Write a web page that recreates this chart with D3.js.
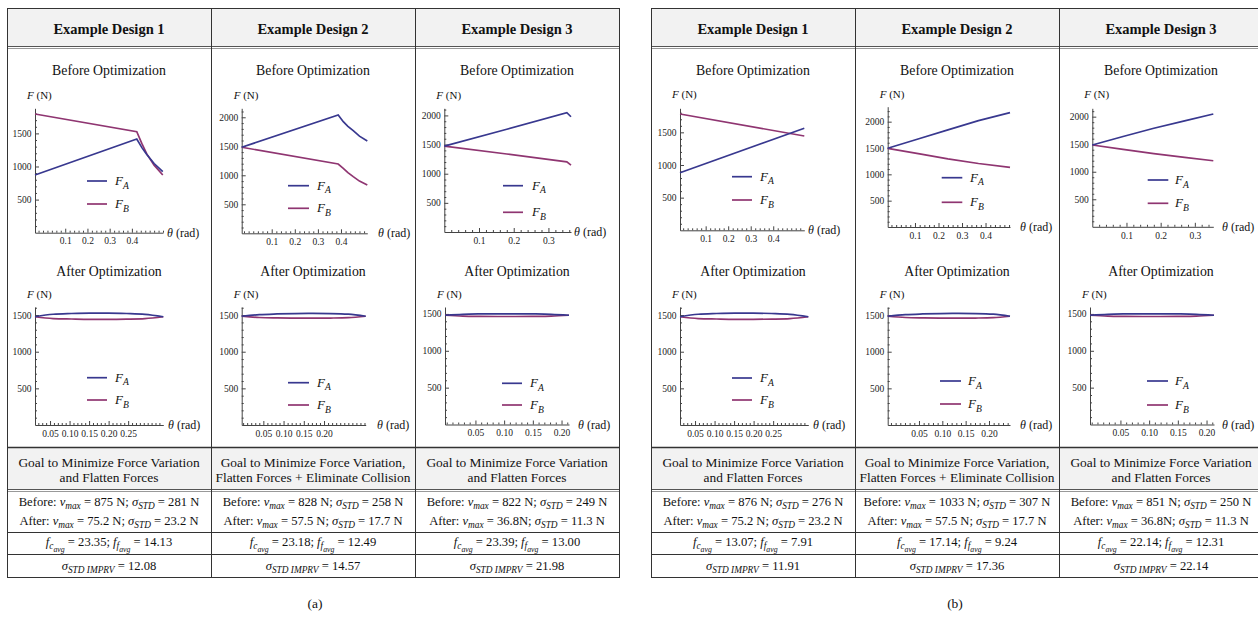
<!DOCTYPE html>
<html><head><meta charset="utf-8">
<script src="https://cdn.jsdelivr.net/npm/d3@7"></script>
<style>html,body{margin:0;padding:0;background:#fff;} svg{display:block;} text{white-space:pre;}</style>
</head><body>
<svg id="c" width="1258" height="617"></svg>
<script>
// ================= DATA =================
const designNames = ["Example Design 1", "Example Design 2", "Example Design 3"];
const goalLines = [
  ["Goal to Minimize Force Variation", "and Flatten Forces"],
  ["Goal to Minimize Force Variation,", "Flatten Forces + Eliminate Collision"],
  ["Goal to Minimize Force Variation", "and Flatten Forces"]
];
const panelTitles = ["Before Optimization", "After Optimization"];
const tableCaptions = ["(a)", "(b)"];

// tick labels
const yTicks3 = [500, 1000, 1500];
const yTicks4 = [500, 1000, 1500, 2000];
const xTicksBefore4 = [0.1, 0.2, 0.3, 0.4];
const xTicksBefore3 = [0.1, 0.2, 0.3];
const xTicksAfter5 = [0.05, 0.10, 0.15, 0.20, 0.25];
const xTicksAfter4 = [0.05, 0.10, 0.15, 0.20];

// statistics
const beforeVmaxA = [875, 828, 822];
const beforeStdA = [281, 258, 249];
const beforeVmaxB = [876, 1033, 851];
const beforeStdB = [276, 307, 250];
const afterVmax = [75.2, 57.5, 36.8];
const afterStd = [23.2, 17.7, 11.3];
const fcAvgA = [23.35, 23.18, 23.39];
const ffAvgA = [14.13, 12.49, 13.00];
const fcAvgB = [13.07, 17.14, 22.14];
const ffAvgB = [7.91, 9.24, 12.31];
const stdImprvA = [12.08, 14.57, 21.98];
const stdImprvB = [11.91, 17.36, 22.14];

// force curves before optimization: [theta (rad), F (N)]
const a1BeforeFA = [[-0.036, 872], [0.422, 1415], [0.445, 1285], [0.467, 1180], [0.50, 1045], [0.539, 921]];
const a1BeforeFB = [[-0.036, 1793], [0.422, 1526], [0.445, 1345], [0.467, 1190], [0.50, 1020], [0.539, 872]];
const a2BeforeFA = [[-0.030, 1483], [0.388, 2040], [0.410, 1924], [0.430, 1845], [0.453, 1769], [0.480, 1675], [0.514, 1591]];
const a2BeforeFB = [[-0.030, 1483], [0.388, 1195], [0.410, 1121], [0.430, 1045], [0.453, 976], [0.480, 900], [0.514, 833]];
const a3BeforeFA = [[0, 1474], [0.18, 1762], [0.353, 2046], [0.365, 1977]];
const a3BeforeFB = [[0, 1474], [0.18, 1338], [0.353, 1204], [0.365, 1148]];
const b1BeforeFA = [[-0.014, 882], [0.538, 1562]];
const b1BeforeFB = [[-0.014, 1781], [0.538, 1444]];
const b2BeforeFA = [[-0.016, 1494], [0.12, 1680], [0.24, 1845], [0.37, 2020], [0.504, 2172]];
const b2BeforeFB = [[-0.016, 1494], [0.12, 1390], [0.24, 1293], [0.37, 1205], [0.504, 1133]];
const b3BeforeFA = [[0, 1485], [0.09, 1640], [0.18, 1790], [0.27, 1925], [0.354, 2048]];
const b3BeforeFB = [[0, 1485], [0.09, 1405], [0.18, 1330], [0.27, 1262], [0.354, 1200]];

// force curves after optimization
const after1Theta = [0.0115, 0.058, 0.105, 0.152, 0.199, 0.246, 0.293, 0.340];
const after1FA = [1477, 1511, 1521, 1526, 1526, 1521, 1510, 1477];
const after1FB = [1477, 1452, 1446, 1442, 1442, 1445, 1452, 1477];
const after2Theta = [-0.0035, 0.040, 0.084, 0.128, 0.172, 0.216, 0.260, 0.303];
const after2ThetaB = [-0.017, 0.021, 0.058, 0.096, 0.134, 0.171, 0.209, 0.245];
const after2FA = [1484, 1506, 1515, 1520, 1522, 1520, 1512, 1484];
const after2FB = [1484, 1467, 1461, 1458, 1457, 1459, 1465, 1484];
const after3Theta = [-0.003, 0.028, 0.058, 0.089, 0.119, 0.150, 0.182, 0.213];
const after3FA = [1482, 1495, 1500, 1502, 1502, 1500, 1495, 1482];
const after3FB = [1482, 1471, 1467, 1465, 1465, 1467, 1471, 1482];

// ================= DRAWING =================
const SERIF = "'Liberation Serif','Times New Roman',serif";
const COL_A = "#38388f", COL_B = "#8f3571";
const svg = d3.select("#c");

function rich(sel, x, y, segs, size, anchor, weight) {
  const t = sel.append("text").attr("x", x).attr("y", y)
    .attr("text-anchor", anchor || "middle").attr("font-family", SERIF)
    .attr("font-size", size).attr("fill", "#111");
  if (weight) t.attr("font-weight", weight);
  const off = [0, 0.27, 0.45], sz = [1, 0.74, 0.62];
  let cur = 0;
  segs.forEach(s => {
    const lvl = s.s || 0;
    const ts = t.append("tspan").text(s.t).attr("font-size", size * sz[lvl]);
    const dy = (off[lvl] - off[cur]) * size;
    if (dy) ts.attr("dy", dy.toFixed(2));
    if (s.i) ts.attr("font-style", "italic");
    cur = lvl;
  });
  return t;
}

const tables = [
  {cols: [7, 211, 415, 619], capX: 315, cap: tableCaptions[0], vmax: beforeVmaxA, std: beforeStdA, fc: fcAvgA, ff: ffAvgA, imp: stdImprvA},
  {cols: [651, 855, 1059, 1264], capX: 955, cap: tableCaptions[1], vmax: beforeVmaxB, std: beforeStdB, fc: fcAvgB, ff: ffAvgB, imp: stdImprvB}
];
const R = {top: 8, head: 47, goalTop: 447, goalBot: 490, ba: 532, f: 554, bot: 577};

tables.forEach(tb => {
  const L = tb.cols[0], Rt = tb.cols[3];
  svg.append("rect").attr("x", L).attr("y", R.top).attr("width", Rt - L).attr("height", R.head - R.top).attr("fill", "#f2f2f2");
  svg.append("rect").attr("x", L).attr("y", R.goalTop).attr("width", Rt - L).attr("height", R.goalBot - R.goalTop).attr("fill", "#f2f2f2");
  const hl = (y, c, w) => svg.append("line").attr("x1", L).attr("x2", Rt).attr("y1", y).attr("y2", y).attr("stroke", c || "#333").attr("stroke-width", w || 1);
  hl(R.top + 0.5); hl(R.head - 0.5, "#555"); hl(R.head + 1.5, "#999");
  hl(R.goalTop + 0.5, "#333", 1.3); hl(R.goalBot - 0.5, "#555"); hl(R.goalBot + 1.5, "#999");
  hl(R.ba + 0.5); hl(R.f + 0.5); hl(R.bot + 0.5);
  tb.cols.forEach(cx => svg.append("line").attr("x1", cx + 0.5).attr("x2", cx + 0.5).attr("y1", R.top).attr("y2", R.bot + 1).attr("stroke", "#333"));
  for (let i = 0; i < 3; i++) {
    const mid = tb.cols[i] + 102;
    rich(svg, mid, 33.5, [{t: designNames[i]}], 14.5, "middle", "bold");
    rich(svg, mid, 467, [{t: goalLines[i][0]}], 13.4);
    rich(svg, mid, 482, [{t: goalLines[i][1]}], 13.4);
    rich(svg, mid, 506, [{t: "Before: "}, {t: "ν", i: 1}, {t: "max", i: 1, s: 1}, {t: " = " + tb.vmax[i] + " N; "}, {t: "σ", i: 1}, {t: "STD", i: 1, s: 1}, {t: " = " + tb.std[i] + " N"}], 12.6);
    rich(svg, mid, 525, [{t: "After: "}, {t: "ν", i: 1}, {t: "max", i: 1, s: 1}, {t: " = " + d3.format(".1f")(afterVmax[i]) + (i === 2 ? "N; " : " N; ")}, {t: "σ", i: 1}, {t: "STD", i: 1, s: 1}, {t: " = " + d3.format(".1f")(afterStd[i]) + " N"}], 12.6);
    rich(svg, mid, 546, [{t: "f", i: 1}, {t: "c", i: 1, s: 1}, {t: "avg", i: 1, s: 2}, {t: " = " + d3.format(".2f")(tb.fc[i]) + "; "}, {t: "f", i: 1}, {t: "f", i: 1, s: 1}, {t: "avg", i: 1, s: 2}, {t: " = " + d3.format(".2f")(tb.ff[i])}], 12.6);
    rich(svg, mid, 570, [{t: "σ", i: 1}, {t: "STD IMPRV", i: 1, s: 1}, {t: " = " + d3.format(".2f")(tb.imp[i])}], 12.6);
  }
  rich(svg, tb.capX, 608, [{t: tb.cap}], 13.5);
});

function zipA(t, f) { return d3.zip(t, f); }

const panels = [
  // table (a) before
  {cx: 109, ty0: 70, fY: 95, ax: 35, ex: 163, xDom: [-0.036, 0.54], ay: 232.7, ty: 108.3, yTop: 1879, yTicks: yTicks3, xTicks: xTicksBefore4, fmt: ".1f", minor: 0.02, thX: 167, leg: [87, 107, 115, 181, 204], FA: a1BeforeFA, FB: a1BeforeFB, title: panelTitles[0]},
  {cx: 313, ty0: 70, fY: 95, ax: 241.7, ex: 367.3, xDom: [-0.030, 0.514], ay: 233.3, ty: 108.3, yTop: 2155, yTicks: yTicks4, xTicks: xTicksBefore4, fmt: ".1f", minor: 0.02, thX: 378, leg: [288, 309, 317, 185.7, 208.3], FA: a2BeforeFA, FB: a2BeforeFB, title: panelTitles[0]},
  {cx: 517, ty0: 70, fY: 95, ax: 444.3, ex: 571, xDom: [0, 0.365], ay: 232, ty: 108.3, yTop: 2122, yTicks: yTicks4, xTicks: xTicksBefore3, fmt: ".1f", minor: 0.02, thX: 574, leg: [503, 523, 532, 185.7, 212.3], FA: a3BeforeFA, FB: a3BeforeFB, title: panelTitles[0]},
  // table (a) after
  {cx: 109, ty0: 271, fY: 294, ax: 35, ex: 163.3, xDom: [0.0115, 0.340], ay: 425, ty: 307, yTop: 1610, yTicks: yTicks3, xTicks: xTicksAfter5, fmt: ".2f", minor: 0.01, thX: 168, leg: [87, 107, 115, 377.7, 400], FA: zipA(after1Theta, after1FA), FB: zipA(after1Theta, after1FB), title: panelTitles[1], smooth: true},
  {cx: 313, ty0: 271, fY: 294, ax: 241.7, ex: 365.7, xDom: [-0.0035, 0.303], ay: 425, ty: 307, yTop: 1610, yTicks: yTicks3, xTicks: xTicksAfter4, fmt: ".2f", minor: 0.01, thX: 377, leg: [288, 309, 317, 382.7, 405], FA: zipA(after2Theta, after2FA), FB: zipA(after2Theta, after2FB), title: panelTitles[1], smooth: true},
  {cx: 517, ty0: 271, fY: 294, ax: 445, ex: 569, xDom: [-0.003, 0.213], ay: 424.5, ty: 307, yTop: 1594, yTicks: yTicks3, xTicks: xTicksAfter4, fmt: ".2f", minor: 0.01, thX: 578, leg: [502, 522, 530, 383.3, 405], FA: zipA(after3Theta, after3FA), FB: zipA(after3Theta, after3FB), title: panelTitles[1], smooth: true},
  // table (b) before
  {cx: 753, ty0: 70, fY: 94, ax: 680, ex: 804.3, xDom: [-0.014, 0.538], ay: 230.3, ty: 108.3, yTop: 1868, yTicks: yTicks3, xTicks: xTicksBefore4, fmt: ".1f", minor: 0.02, thX: 808, leg: [732, 752, 760, 176.7, 200], FA: b1BeforeFA, FB: b1BeforeFB, title: panelTitles[0]},
  {cx: 957, ty0: 70, fY: 94, ax: 887.7, ex: 1010, xDom: [-0.016, 0.504], ay: 227, ty: 106.7, yTop: 2284, yTicks: yTicks4, xTicks: xTicksBefore4, fmt: ".1f", minor: 0.02, thX: 1020, leg: [941.7, 962.3, 970, 177.7, 202.3], FA: b2BeforeFA, FB: b2BeforeFB, title: panelTitles[0]},
  {cx: 1161, ty0: 70, fY: 94, ax: 1092.3, ex: 1213.3, xDom: [0, 0.354], ay: 226.8, ty: 108.3, yTop: 2152, yTicks: yTicks4, xTicks: xTicksBefore3, fmt: ".1f", minor: 0.02, thX: 1222, leg: [1147.7, 1168.3, 1175, 180, 203.3], FA: b3BeforeFA, FB: b3BeforeFB, title: panelTitles[0]},
  // table (b) after
  {cx: 753, ty0: 271, fY: 294, ax: 680, ex: 808.3, xDom: [0.0115, 0.340], ay: 425, ty: 307, yTop: 1610, yTicks: yTicks3, xTicks: xTicksAfter5, fmt: ".2f", minor: 0.01, thX: 813, leg: [732, 752, 760, 378, 400], FA: zipA(after1Theta, after1FA), FB: zipA(after1Theta, after1FB), title: panelTitles[1], smooth: true},
  {cx: 957, ty0: 271, fY: 294, ax: 887.7, ex: 1010, xDom: [-0.017, 0.245], ay: 425, ty: 307, yTop: 1610, yTicks: yTicks3, xTicks: xTicksAfter4, fmt: ".2f", minor: 0.01, thX: 1020, leg: [940, 961, 968, 381, 404], FA: zipA(after2ThetaB, after2FA), FB: zipA(after2ThetaB, after2FB), title: panelTitles[1], smooth: true},
  {cx: 1161, ty0: 271, fY: 294, ax: 1090, ex: 1214, xDom: [-0.003, 0.213], ay: 424.5, ty: 307, yTop: 1594, yTicks: yTicks3, xTicks: xTicksAfter4, fmt: ".2f", minor: 0.01, thX: 1222, leg: [1147, 1168, 1175, 381, 405], FA: zipA(after3Theta, after3FA), FB: zipA(after3Theta, after3FB), title: panelTitles[1], smooth: true}
];

function styleAxis(g) {
  g.attr("font-family", SERIF).attr("font-size", 9.5);
  g.selectAll(".domain").attr("stroke", "#444");
  g.selectAll(".tick line").attr("stroke", "#444");
  g.selectAll(".tick text").attr("fill", "#222");
}

panels.forEach(p => {
  const g = svg.append("g");
  const x = d3.scaleLinear().domain(p.xDom).range([p.ax, p.ex]);
  const y = d3.scaleLinear().domain([0, p.yTop]).range([p.ay, p.ty]);

  rich(g, p.cx, p.ty0 + 4.7, [{t: p.title}], 13.8);
  rich(g, p.ax - 8, p.fY + 3.7, [{t: "F", i: 1}, {t: " (N)"}], 11, "start");

  const ya = g.append("g").attr("transform", `translate(${p.ax},0)`)
    .call(d3.axisLeft(y).tickValues(p.yTicks).tickSizeInner(-4).tickSizeOuter(0).tickPadding(3.5).tickFormat(d3.format("d")));
  styleAxis(ya);
  const yMinor = d3.range(100, p.yTop, 100).filter(v => v % 500 !== 0);
  const ym = g.append("g").attr("transform", `translate(${p.ax},0)`)
    .call(d3.axisLeft(y).tickValues(yMinor).tickSizeInner(-2).tickSizeOuter(0).tickFormat(""));
  ym.select(".domain").remove(); styleAxis(ym);

  const xa = g.append("g").attr("transform", `translate(0,${p.ay})`)
    .call(d3.axisBottom(x).tickValues(p.xTicks).tickSizeInner(-4).tickSizeOuter(0).tickPadding(5).tickFormat(d3.format(p.fmt)));
  styleAxis(xa);
  const xMinor = d3.range(Math.ceil(p.xDom[0] / p.minor) * p.minor, p.xDom[1], p.minor)
    .filter(v => !p.xTicks.some(t => Math.abs(t - v) < 1e-6) && v > p.xDom[0] + 1e-6);
  const xm = g.append("g").attr("transform", `translate(0,${p.ay})`)
    .call(d3.axisBottom(x).tickValues(xMinor).tickSizeInner(-2).tickSizeOuter(0).tickFormat(""));
  xm.select(".domain").remove(); styleAxis(xm);

  rich(g, p.thX, p.ay + 4, [{t: "θ", i: 1}, {t: " (rad)"}], 12, "start");

  const line = d3.line().x(d => x(d[0])).y(d => y(d[1])).curve(p.smooth ? d3.curveMonotoneX : d3.curveLinear);
  g.append("path").datum(p.FB).attr("d", line).attr("fill", "none").attr("stroke", COL_B).attr("stroke-width", 1.7);
  g.append("path").datum(p.FA).attr("d", line).attr("fill", "none").attr("stroke", COL_A).attr("stroke-width", 1.7);

  const [l1, l2, lx, yA, yB] = p.leg;
  g.append("line").attr("x1", l1).attr("x2", l2).attr("y1", yA).attr("y2", yA).attr("stroke", COL_A).attr("stroke-width", 1.7);
  g.append("line").attr("x1", l1).attr("x2", l2).attr("y1", yB).attr("y2", yB).attr("stroke", COL_B).attr("stroke-width", 1.7);
  rich(g, lx, yA + 4, [{t: "F", i: 1}, {t: "A", i: 1, s: 1}], 13, "start");
  rich(g, lx, yB + 4, [{t: "F", i: 1}, {t: "B", i: 1, s: 1}], 13, "start");
});
</script>
</body></html>
